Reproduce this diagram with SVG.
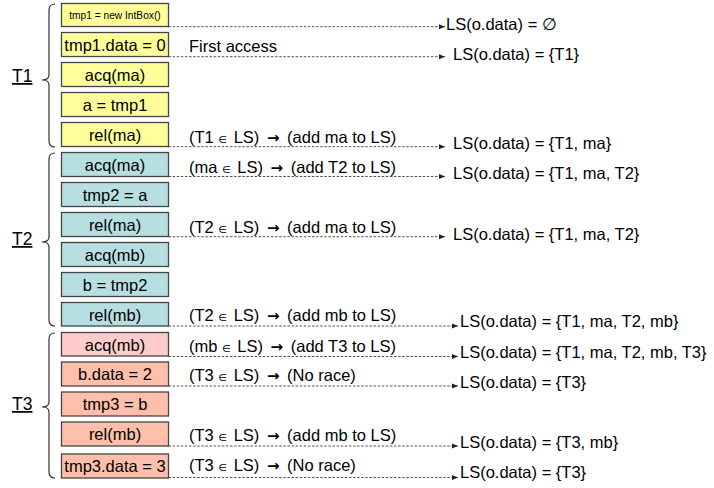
<svg xmlns="http://www.w3.org/2000/svg" width="714" height="488" viewBox="0 0 714 488">
<defs>
<marker id="ah" markerUnits="userSpaceOnUse" markerWidth="8" markerHeight="6" refX="6" refY="3" orient="auto">
<path d="M0,0.5 L6,3 L0,5.5 Z" fill="#222" stroke="none"/>
</marker>
<style>
text{font-family:"Liberation Sans",Arial,sans-serif;fill:#000;}
.bt{font-size:16.5px;text-anchor:middle;}
.sm{font-size:10.2px;text-anchor:middle;}
.lb{font-size:16.5px;}
.el{font-size:10px;font-family:"DejaVu Sans",sans-serif;}
.ar{font-size:15px;font-family:"DejaVu Sans",sans-serif;font-weight:bold;}
.tl{font-size:17.5px;text-decoration:underline;}
.b{stroke:#444;stroke-width:1.3;}
.y{fill:#FFFF99;}
.c{fill:#B7DEE0;}
.p{fill:#FFCCCC;}
.s{fill:#FFBFAA;}
.d{fill:none;stroke:#555;stroke-width:1;stroke-dasharray:2.5 1.6;marker-end:url(#ah);}
.br{fill:none;stroke:#333;stroke-width:1.2;}
</style>
</defs>
<rect width="714" height="488" fill="#fff"/>

<g id="braces">
<g id="T1"><path class="br" d="M55,4 Q49,4 49,10 L49,75 Q49,80 42,80 Q49,80 49,85 L49,141 Q49,147 55,147"/><text class="tl" x="12" y="82">T1</text></g>
<g id="T2"><path class="br" d="M55,153 Q49,153 49,159 L49,237 Q49,242 42,242 Q49,242 49,247 L49,320 Q49,326 55,326"/><text class="tl" x="12" y="245">T2</text></g>
<g id="T3"><path class="br" d="M55,333 Q49,333 49,339 L49,402 Q49,407 42,407 Q49,407 49,412 L49,472 Q49,478 55,478"/><text class="tl" x="12" y="410">T3</text></g>
</g>

<g id="connectors">
<line class="d" x1="168.5" y1="26.7" x2="445" y2="26.7"/>
<line class="d" x1="168.5" y1="56.7" x2="445" y2="56.7"/>
<line class="d" x1="168.5" y1="146.7" x2="445" y2="146.7"/>
<line class="d" x1="168.5" y1="176.5" x2="445" y2="176.5"/>
<line class="d" x1="168.5" y1="236.7" x2="445" y2="236.7"/>
<line class="d" x1="168.5" y1="326" x2="458" y2="326"/>
<line class="d" x1="168.5" y1="356.5" x2="458" y2="356.5"/>
<line class="d" x1="168.5" y1="386" x2="458" y2="386"/>
<line class="d" x1="168.5" y1="446" x2="458" y2="446"/>
<line class="d" x1="168.5" y1="477.5" x2="458" y2="477.5"/>
</g>

<g id="n1"><rect class="b y" x="61.5" y="3.5" width="107" height="23"/><text class="sm" x="115" y="19">tmp1 = new IntBox()</text></g>
<g id="n2"><rect class="b y" x="61.5" y="32.5" width="107" height="24"/><text class="bt" x="115" y="50.5">tmp1.data = 0</text></g>
<g id="n3"><rect class="b y" x="61.5" y="62.5" width="107" height="24"/><text class="bt" x="115" y="80.5">acq(ma)</text></g>
<g id="n4"><rect class="b y" x="61.5" y="92.5" width="107" height="24"/><text class="bt" x="115" y="110.5">a = tmp1</text></g>
<g id="n5"><rect class="b y" x="61.5" y="122.5" width="107" height="24"/><text class="bt" x="115" y="140.5">rel(ma)</text></g>

<g id="n6"><rect class="b c" x="61.5" y="152.5" width="107" height="24"/><text class="bt" x="115" y="170.5">acq(ma)</text></g>
<g id="n7"><rect class="b c" x="61.5" y="182.5" width="107" height="24"/><text class="bt" x="115" y="200.5">tmp2 = a</text></g>
<g id="n8"><rect class="b c" x="61.5" y="212.5" width="107" height="24"/><text class="bt" x="115" y="230.5">rel(ma)</text></g>
<g id="n9"><rect class="b c" x="61.5" y="242.5" width="107" height="24"/><text class="bt" x="115" y="260.5">acq(mb)</text></g>
<g id="n10"><rect class="b c" x="61.5" y="272.5" width="107" height="24"/><text class="bt" x="115" y="290.5">b = tmp2</text></g>
<g id="n11"><rect class="b c" x="61.5" y="302.5" width="107" height="23.5"/><text class="bt" x="115" y="320.5">rel(mb)</text></g>

<g id="n12"><rect class="b p" x="61.5" y="332.5" width="107" height="23.5"/><text class="bt" x="115" y="350.5">acq(mb)</text></g>
<g id="n13"><rect class="b s" x="61.5" y="362" width="107" height="24"/><text class="bt" x="115" y="380">b.data = 2</text></g>
<g id="n14"><rect class="b s" x="61.5" y="392" width="107" height="24"/><text class="bt" x="115" y="410">tmp3 = b</text></g>
<g id="n15"><rect class="b s" x="61.5" y="422" width="107" height="24"/><text class="bt" x="115" y="440">rel(mb)</text></g>
<g id="n16"><rect class="b s" x="61.5" y="454" width="107" height="24"/><text class="bt" x="115" y="472">tmp3.data = 3</text></g>

<g id="labels">
<text class="lb" x="189" y="52">First access</text>
<text class="lb" x="189" y="143">(T1 <tspan class="el">∈</tspan><tspan dx="2"> LS) </tspan><tspan class="ar" dx="3">→</tspan><tspan dx="3"> (add ma to LS)</tspan></text>
<text class="lb" x="189" y="172.5">(ma <tspan class="el">∈</tspan><tspan dx="2"> LS) </tspan><tspan class="ar" dx="3">→</tspan><tspan dx="3"> (add T2 to LS)</tspan></text>
<text class="lb" x="189" y="232.5">(T2 <tspan class="el">∈</tspan><tspan dx="2"> LS) </tspan><tspan class="ar" dx="3">→</tspan><tspan dx="3"> (add ma to LS)</tspan></text>
<text class="lb" x="189" y="320.5">(T2 <tspan class="el">∈</tspan><tspan dx="2"> LS) </tspan><tspan class="ar" dx="3">→</tspan><tspan dx="3"> (add mb to LS)</tspan></text>
<text class="lb" x="189" y="351.5">(mb <tspan class="el">∈</tspan><tspan dx="2"> LS) </tspan><tspan class="ar" dx="3">→</tspan><tspan dx="3"> (add T3 to LS)</tspan></text>
<text class="lb" x="189" y="381">(T3 <tspan class="el">∈</tspan><tspan dx="2"> LS) </tspan><tspan class="ar" dx="3">→</tspan><tspan dx="3"> (No race)</tspan></text>
<text class="lb" x="189" y="440.5">(T3 <tspan class="el">∈</tspan><tspan dx="2"> LS) </tspan><tspan class="ar" dx="3">→</tspan><tspan dx="3"> (add mb to LS)</tspan></text>
<text class="lb" x="189" y="470.5">(T3 <tspan class="el">∈</tspan><tspan dx="2"> LS) </tspan><tspan class="ar" dx="3">→</tspan><tspan dx="3"> (No race)</tspan></text>

<text class="lb" x="446" y="29.5">LS(o.data) = ∅</text>
<text class="lb" x="453" y="60">LS(o.data) = {T1}</text>
<text class="lb" x="453" y="149">LS(o.data) = {T1, ma}</text>
<text class="lb" x="453" y="179">LS(o.data) = {T1, ma, T2}</text>
<text class="lb" x="453" y="240">LS(o.data) = {T1, ma, T2}</text>
<text class="lb" x="460" y="327">LS(o.data) = {T1, ma, T2, mb}</text>
<text class="lb" x="460" y="357.5">LS(o.data) = {T1, ma, T2, mb, T3}</text>
<text class="lb" x="460" y="388">LS(o.data) = {T3}</text>
<text class="lb" x="460" y="447.5">LS(o.data) = {T3, mb}</text>
<text class="lb" x="460" y="478">LS(o.data) = {T3}</text>
</g>
</svg>
